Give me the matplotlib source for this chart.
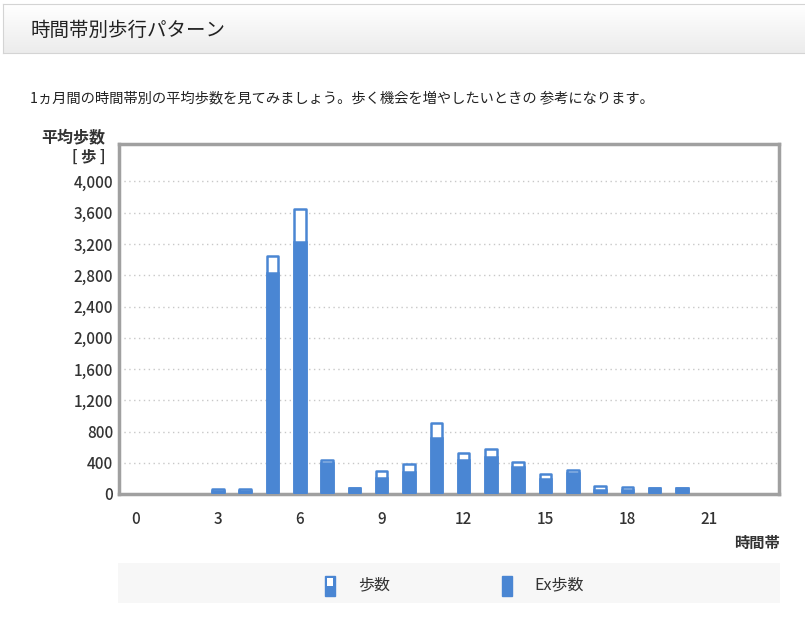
import matplotlib.pyplot as plt
from matplotlib.patches import Rectangle
from matplotlib.colors import LinearSegmentedColormap
import numpy as np

plt.rcParams['font.family'] = ['Noto Sans CJK JP', 'DejaVu Sans']

# Data: average steps per hour (total) and Ex steps
hours = list(range(24))
steps = [0, 0, 0, 70, 70, 3050, 3650, 440, 80, 300, 380, 910,
         520, 570, 410, 250, 310, 100, 90, 80, 80, 0, 0, 0]
ex_steps = [0, 0, 0, 40, 40, 2830, 3220, 400, 75, 200, 280, 720,
            430, 470, 340, 195, 265, 50, 50, 75, 75, 0, 0, 0]
y_ticks = [0, 400, 800, 1200, 1600, 2000, 2400, 2800, 3200, 3600, 4000]
x_ticks = [0, 3, 6, 9, 12, 15, 18, 21]

title = '時間帯別歩行パターン'
subtitle = '1ヵ月間の時間帯別の平均歩数を見てみましょう。歩く機会を増やしたいときの 参考になります。'

W, H = 805, 623
blue = '#4a86d3'
text_col = '#333333'

fig = plt.figure(figsize=(W / 100, H / 100), dpi=100)
fig.patch.set_facecolor('white')

# Header box with soft gradient
hdr = fig.add_axes([3 / W, 1 - 53 / H, 1 - 3 / W, 49 / H])
grad = np.linspace(0, 1, 50).reshape(-1, 1)
cmap = LinearSegmentedColormap.from_list('g', ['#ffffff', '#ececec'])
hdr.imshow(grad, aspect='auto', cmap=cmap, extent=[0, 1, 0, 1])
hdr.set_xticks([])
hdr.set_yticks([])
for s in hdr.spines.values():
    s.set_color('#d4d4d4')
hdr.spines['right'].set_visible(False)
fig.text(30 / W, 1 - 30 / H, title, fontsize=14, color='#222222', va='center')
fig.text(30 / W, 1 - 98 / H, subtitle, fontsize=10.3, color='#222222', va='center')

# Main chart
ax = fig.add_axes([119 / W, 1 - 494 / H, (779 - 119) / W, (494 - 144) / H])
ax.set_xlim(-0.62, 23.55)
ax.set_ylim(0, 4480)
ax.set_yticks(y_ticks)
ax.set_yticklabels([f'{v:,}' for v in y_ticks])
ax.set_xticks(x_ticks)
ax.grid(axis='y', linestyle=(0, (1, 2.5)), color='#c8c8c8', linewidth=1)
ax.set_axisbelow(True)
ax.tick_params(length=0, labelsize=11, colors=text_col, pad=4)
ax.tick_params(axis='x', pad=12)
for lab in ax.get_xticklabels() + ax.get_yticklabels():
    lab.set_fontweight('medium')
for s in ax.spines.values():
    s.set_color('#a0a0a0')
    s.set_linewidth(2.5)

# skip empty hours so no flat outlines are drawn
shown = [i for i in hours if steps[i] > 0]
ax.bar(shown, [steps[i] for i in shown], width=0.42, color='white',
       edgecolor=blue, linewidth=1.8, joinstyle='round', zorder=2)
ax.bar(shown, [ex_steps[i] for i in shown], width=0.42, color=blue,
       edgecolor=blue, linewidth=1.8, zorder=3)

fig.text(105 / W, 1 - 137 / H, '平均歩数', fontsize=11.5, fontweight='bold',
         color=text_col, ha='right', va='center')
fig.text(105 / W, 1 - 157 / H, '[ 歩 ]', fontsize=11, fontweight='bold',
         color=text_col, ha='right', va='center')
fig.text(780 / W, 1 - 543 / H, '時間帯', fontsize=11, fontweight='bold',
         color=text_col, ha='right', va='center')

# Legend box
lg = fig.add_axes([118 / W, 1 - 603 / H, (780 - 118) / W, 40 / H])
lg.set_xlim(118, 780)
lg.set_ylim(603, 563)
lg.set_facecolor('#f7f7f7')
lg.set_xticks([])
lg.set_yticks([])
for s in lg.spines.values():
    s.set_visible(False)
lg.add_patch(Rectangle((324.5, 575.5), 10, 20, facecolor=blue, edgecolor=blue))
lg.add_patch(Rectangle((326.5, 577.5), 6, 8, facecolor='white', edgecolor='none'))
lg.add_patch(Rectangle((501.5, 575.5), 10, 20, facecolor=blue, edgecolor=blue))
lg.text(358, 585, '歩数', fontsize=11.5, color=text_col, va='center')
lg.text(534, 585, 'Ex歩数', fontsize=11.5, color=text_col, va='center')

fig.savefig('out.png', dpi=100)
